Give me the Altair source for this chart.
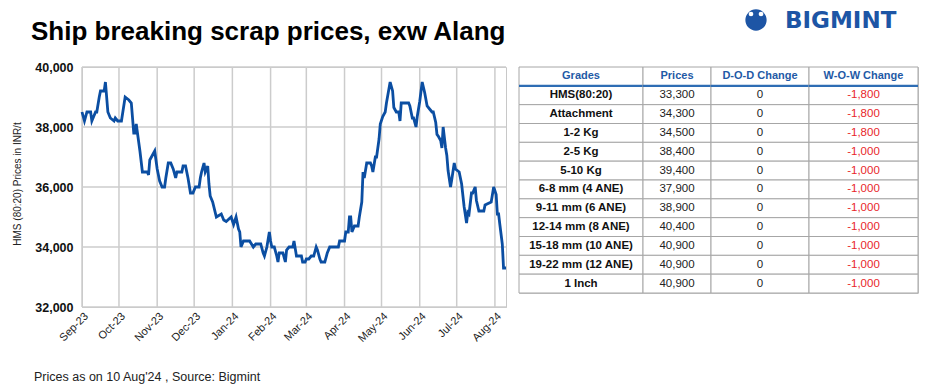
import math
import altair as alt
import pandas as pd

# ---------------- data ----------------
dates = [
    "2023-09-01", "2023-09-03", "2023-09-05", "2023-09-08", "2023-09-09", "2023-09-12",
    "2023-09-13", "2023-09-15", "2023-09-16", "2023-09-19", "2023-09-20", "2023-09-22",
    "2023-09-24", "2023-09-27", "2023-09-28", "2023-09-30", "2023-10-03", "2023-10-06",
    "2023-10-09", "2023-10-11", "2023-10-13", "2023-10-14", "2023-10-15", "2023-10-18",
    "2023-10-20", "2023-10-24", "2023-10-25", "2023-10-26", "2023-10-30", "2023-11-01",
    "2023-11-03", "2023-11-05", "2023-11-07", "2023-11-08", "2023-11-10", "2023-11-12",
    "2023-11-14", "2023-11-16", "2023-11-17", "2023-11-21", "2023-11-22", "2023-11-24",
    "2023-11-26", "2023-11-28", "2023-11-30", "2023-12-02", "2023-12-05", "2023-12-06",
    "2023-12-07", "2023-12-09", "2023-12-10", "2023-12-12", "2023-12-13", "2023-12-14",
    "2023-12-16", "2023-12-19", "2023-12-23", "2023-12-25", "2023-12-27", "2023-12-31",
    "2024-01-02", "2024-01-04", "2024-01-06", "2024-01-07", "2024-01-08", "2024-01-10",
    "2024-01-15", "2024-01-18", "2024-01-20", "2024-01-24", "2024-01-26", "2024-01-27",
    "2024-01-29", "2024-01-31", "2024-02-01", "2024-02-02", "2024-02-04", "2024-02-06",
    "2024-02-07", "2024-02-08", "2024-02-11", "2024-02-13", "2024-02-14", "2024-02-16",
    "2024-02-19", "2024-02-20", "2024-02-22", "2024-02-26", "2024-02-27", "2024-02-29",
    "2024-03-01", "2024-03-03", "2024-03-05", "2024-03-07", "2024-03-09", "2024-03-10",
    "2024-03-12", "2024-03-13", "2024-03-16", "2024-03-18", "2024-03-20", "2024-03-27",
    "2024-03-28", "2024-04-01", "2024-04-02", "2024-04-04", "2024-04-05", "2024-04-06",
    "2024-04-07", "2024-04-09", "2024-04-12", "2024-04-13", "2024-04-15", "2024-04-16",
    "2024-04-17", "2024-04-19", "2024-04-22", "2024-04-23", "2024-04-24", "2024-04-26",
    "2024-04-27", "2024-04-29", "2024-04-30", "2024-05-02", "2024-05-04", "2024-05-05",
    "2024-05-08", "2024-05-10", "2024-05-11", "2024-05-13", "2024-05-15", "2024-05-16",
    "2024-05-17", "2024-05-23", "2024-05-24", "2024-05-26", "2024-05-27", "2024-05-29",
    "2024-05-30", "2024-06-01", "2024-06-03", "2024-06-05", "2024-06-07", "2024-06-09",
    "2024-06-11", "2024-06-12", "2024-06-14", "2024-06-15", "2024-06-16", "2024-06-18",
    "2024-06-19", "2024-06-20", "2024-06-22", "2024-06-23", "2024-06-24", "2024-06-26",
    "2024-06-27", "2024-06-29", "2024-06-30", "2024-07-03", "2024-07-05", "2024-07-07",
    "2024-07-09", "2024-07-10", "2024-07-11", "2024-07-13", "2024-07-14", "2024-07-16",
    "2024-07-17", "2024-07-19", "2024-07-23", "2024-07-24", "2024-07-29", "2024-07-30",
    "2024-07-31", "2024-08-02", "2024-08-03", "2024-08-04", "2024-08-05", "2024-08-07",
    "2024-08-08", "2024-08-10",
]
prices = [
    38500, 38200, 38500, 38500, 38200, 38500,
    38500, 39000, 39200, 39200, 39500, 38500,
    38300, 38200, 38300, 38200, 38200, 39000,
    38900, 38800, 37800, 37800, 38100, 37200,
    36500, 36500, 36400, 36900, 37200, 36600,
    36200, 36000, 36000, 36300, 36800, 36800,
    36600, 36300, 36500, 36500, 36700, 36700,
    36300, 35800, 35800, 36000, 36000, 36300,
    36500, 36800, 36500, 36700, 36100, 35700,
    35500, 35000, 35100, 34900, 34850, 35000,
    34750, 35000, 34600, 34500, 34000, 34200,
    34200, 34000, 34100, 34100, 33800, 33700,
    34000, 34500, 34200, 34000, 34000, 33700,
    33500, 33800, 33800, 33500, 33900, 34000,
    34000, 34200, 33700, 33700, 33500, 33500,
    33600, 33600, 33700, 33700, 34000, 33900,
    33600, 33500, 33500, 33800, 34000, 34000,
    34200, 34200, 34500, 34500, 35000, 35000,
    34500, 34700, 34700, 35000, 35500, 36500,
    36300, 36800, 36800, 36700, 36500, 37000,
    37000, 37600, 38100, 38350, 38500, 38800,
    39500, 39200, 38650, 38500, 38500, 38200,
    38800, 38800, 38700, 38300, 38300, 38000,
    38350, 38850, 39500, 39150, 38700, 38600,
    38500, 38500, 38150, 37750, 37700, 37550,
    37300, 38000, 37300, 37050, 36550, 36000,
    36250, 36800, 36600, 36500, 36100, 35350,
    34800, 35150, 35100, 35800, 35800, 36000,
    35550, 35200, 35200, 35400, 35500, 35750,
    36000, 35750, 35100, 35100, 34750, 34100,
    33300, 33300,
]

y_ticks = [32000, 34000, 36000, 38000, 40000]
month_ticks = ["2023-09-01", "2023-10-01", "2023-11-01", "2023-12-01", "2024-01-01",
               "2024-02-01", "2024-03-01", "2024-04-01", "2024-05-01", "2024-06-01",
               "2024-07-01", "2024-08-01"]
x_start = "2023-09-01"
x_end = "2024-08-10"

headers = ["Grades", "Prices", "D-O-D Change", "W-O-W Change"]
grades = ["HMS(80:20)", "Attachment", "1-2 Kg", "2-5 Kg", "5-10 Kg", "6-8 mm (4 ANE)",
          "9-11 mm (6 ANE)", "12-14 mm (8 ANE)", "15-18 mm (10 ANE)", "19-22 mm (12 ANE)",
          "1 Inch"]
grade_prices = [33300, 34300, 34500, 38400, 39400, 37900, 38900, 40400, 40900, 40900, 40900]
dod_change = [0, 0, 0, 0, 0, 0, 0, 0, 0, 0, 0]
wow_change = [-1800, -1800, -1800, -1000, -1000, -1000, -1000, -1000, -1000, -1000, -1000]

title_text = "Ship breaking scrap prices, exw Alang"
y_title_text = "HMS (80:20) Prices in INR/t"
footer_text = "Prices as on 10 Aug'24 , Source: Bigmint"
logo_text = "BIGMINT"

# ---------------- style ----------------
FONT = "Liberation Sans"
LINE_BLUE = "#0b4ea2"
LOGO_BLUE = "#1d55a5"
HEAD_BLUE = "#1f5aa6"
GRID = "#cccccc"
W, H = 424, 240
TABLE_H = 226
COL_W = [124, 68, 98, 109]
ICON_R = 12


def dt(s):
    y, m, d = (int(p) for p in s.split("-"))
    return alt.DateTime(year=y, month=m, date=d)


df = pd.DataFrame({"date": dates, "price": prices})
x_scale = alt.Scale(domain=[dt(x_start), dt(x_end)])
y_scale = alt.Scale(domain=[32000, 40000], nice=False, zero=False)

x_axis = alt.Axis(
    title=None, values=[dt(s) for s in month_ticks], format="%b-%y",
    labelAngle=315, labelAlign="right", labelBaseline="top",
    labelFontSize=11, labelColor="#222", labelFont=FONT, labelPadding=3,
    ticks=False, grid=False, domainColor="#c8c8c8", labelOverlap=False,
)
y_axis = alt.Axis(
    title=None, values=y_ticks, format=",.0f",
    labelFontSize=12.5, labelFontWeight="bold", labelColor="#111", labelFont=FONT,
    labelPadding=9, ticks=False, grid=False, domainColor="#c8c8c8",
)

vgrid = alt.Chart(pd.DataFrame({"date": month_ticks})).mark_rule(
    color=GRID, strokeWidth=1.5
).encode(x=alt.X("date:T", scale=x_scale, axis=x_axis))

hgrid = alt.Chart(pd.DataFrame({"price": y_ticks})).mark_rule(
    color=GRID, strokeWidth=1.5
).encode(y=alt.Y("price:Q", scale=y_scale, axis=y_axis))

line = alt.Chart(df).mark_line(color=LINE_BLUE, strokeWidth=2.8).encode(
    x=alt.X("date:T", scale=x_scale, axis=x_axis),
    y=alt.Y("price:Q", scale=y_scale, axis=y_axis),
)

y_title = alt.Chart(pd.DataFrame({"t": [y_title_text]})).mark_text(
    align="center", baseline="top", angle=270, fontSize=10, font=FONT, color="#222"
).encode(x=alt.value(-69), y=alt.value(117), text="t:N")

title_mark = alt.Chart(pd.DataFrame({"t": [title_text]})).mark_text(
    align="left", baseline="alphabetic", fontSize=26, fontWeight="bold", font=FONT, color="#000"
).encode(x=alt.value(-51), y=alt.value(-27), text="t:N")

footer_mark = alt.Chart(pd.DataFrame({"t": [footer_text]})).mark_text(
    align="left", baseline="alphabetic", fontSize=12.5, font=FONT, color="#222"
).encode(x=alt.value(-48), y=alt.value(H + 74), text="t:N")

logo_circle = alt.Chart(pd.DataFrame({"t": [logo_text]})).mark_circle(
    size=math.pi * ICON_R ** 2, color=LOGO_BLUE, opacity=1
).encode(x=alt.value(674), y=alt.value(-47))

logo_head_l = alt.Chart(pd.DataFrame({"t": [logo_text]})).mark_circle(
    size=22, color="white", opacity=1
).encode(x=alt.value(669), y=alt.value(-53))

logo_head_r = alt.Chart(pd.DataFrame({"t": [logo_text]})).mark_circle(
    size=22, color="white", opacity=1
).encode(x=alt.value(679), y=alt.value(-53))

logo_word = alt.Chart(pd.DataFrame({"t": [logo_text]})).mark_text(
    align="left", baseline="alphabetic", fontSize=23, fontWeight="bold", font="DejaVu Sans",
    color=LOGO_BLUE
).encode(x=alt.value(703), y=alt.value(-39), text="t:N")

left = alt.layer(vgrid, hgrid, line, y_title, title_mark, footer_mark, logo_circle,
                 logo_head_l, logo_head_r, logo_word).properties(width=W, height=H)


def column(header, values, width, color, weight):
    n = len(values)
    ysc = alt.Scale(domain=list(range(n + 1)), paddingInner=0, paddingOuter=0)
    yenc = alt.Y("r:O", scale=ysc, axis=None)
    cells = alt.Chart(pd.DataFrame({"r": list(range(n + 1))})).mark_rect(
        fill="white", stroke="#a6a6a6", strokeWidth=1
    ).encode(y=yenc, x=alt.value(0), x2=alt.value(width))
    head = pd.DataFrame({"r": [0], "v": [header]})
    htxt = alt.Chart(head).mark_text(
        color=HEAD_BLUE, fontWeight="bold", fontSize=11, font=FONT, baseline="middle"
    ).encode(y=yenc, x=alt.value(width / 2), text="v:N")
    hrule = alt.Chart(head).mark_rule(color="#2e6db4", strokeWidth=2.2).encode(
        y=alt.Y("r:O", scale=ysc, axis=None, bandPosition=1),
        x=alt.value(0), x2=alt.value(width),
    )
    body = pd.DataFrame({"r": list(range(1, n + 1)), "v": values})
    btxt = alt.Chart(body).mark_text(
        color=color, fontWeight=weight, fontSize=11.5, font=FONT, baseline="middle"
    ).encode(y=yenc, x=alt.value(width / 2), text="v:N")
    return alt.layer(cells, htxt, hrule, btxt).properties(width=width, height=TABLE_H)


cols = [
    column(headers[0], grades, COL_W[0], "#111", "bold"),
    column(headers[1], [f"{v:,}" for v in grade_prices], COL_W[1], "#222", "normal"),
    column(headers[2], [f"{v:,}" for v in dod_change], COL_W[2], "#222", "normal"),
    column(headers[3], [f"{v:,}" for v in wow_change], COL_W[3], "#e8262a", "normal"),
]
table = alt.hconcat(*cols, spacing=0, bounds="flush")

chart = alt.hconcat(left, table, spacing=13, bounds="flush").properties(
    padding={"left": 4, "top": 0, "right": 0, "bottom": 0}
).configure(background="white").configure_view(stroke="#c8c8c8")

chart.save("out.html", embed_options={"renderer": "svg", "actions": False})
